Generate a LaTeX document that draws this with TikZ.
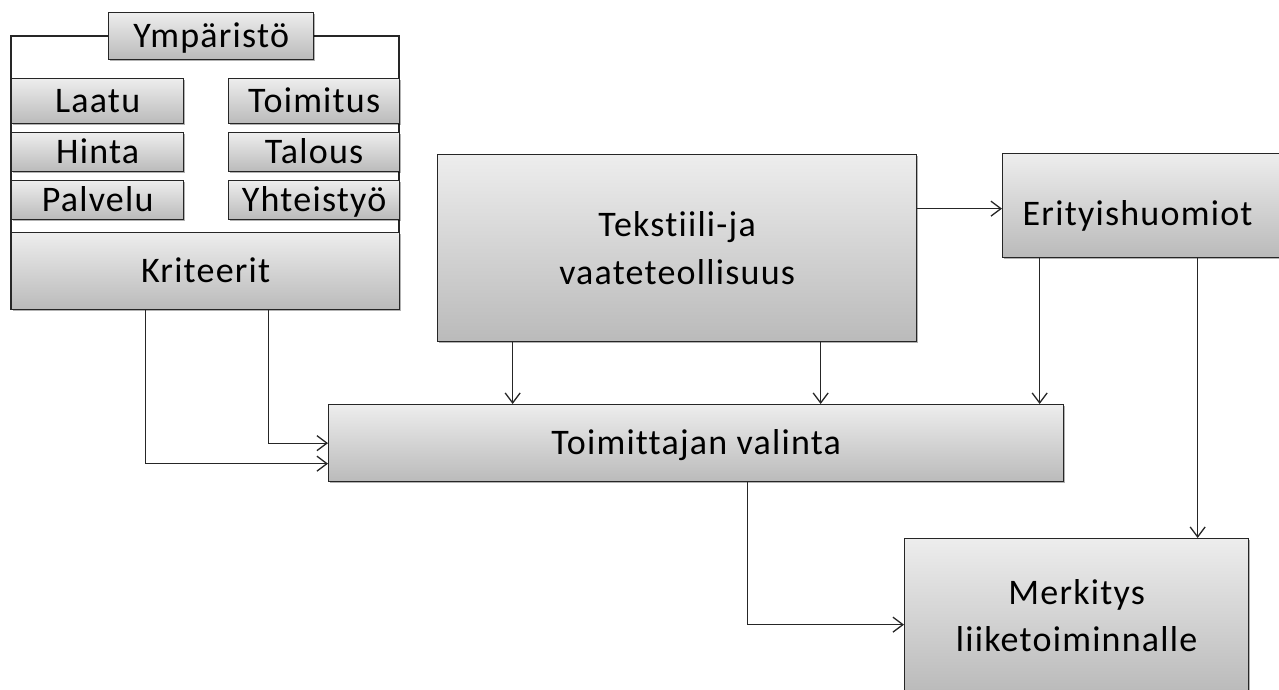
\documentclass[tikz,border=0pt]{standalone}
\usepackage{fontspec}
\setmainfont{Carlito}[Ligatures=NoCommon, LetterSpace=3.4]
\usetikzlibrary{arrows.meta,shadows}
\newcommand{\boxfont}{\fontsize{36}{47.5}\selectfont}
\begin{document}
\begin{tikzpicture}[x=1pt,y=-1pt,
  box/.style={draw=black!85, line width=1.3pt, top color=black!7, bottom color=black!27,
    drop shadow={shadow xshift=1.5pt, shadow yshift=-1.5pt, opacity=0.3, fill=black},
    inner sep=0pt, anchor=north west, align=center, font=\boxfont},
  oneline/.style={text height=23.2pt, text depth=0pt},
  arr/.style={line width=1.3pt, draw=black!85, -{Straight Barb[length=10pt,width=15pt]}},
  frame/.style={draw=black!85, line width=1.3pt}]
\useasboundingbox (0,0) rectangle (1279,690);

% criteria group: frame, header and the six criteria
\draw[frame] (11,36) rectangle (399,309);
\node[box, oneline, minimum width=205pt, minimum height=47pt] (env) at (108,12) {Ympäristö};
\node[box, oneline, minimum width=172pt, minimum height=45pt] (laatu) at (11,78) {Laatu};
\node[box, oneline, minimum width=172pt, minimum height=39pt] (hinta) at (11,132) {Hinta};
\node[box, oneline, minimum width=172pt, minimum height=39pt] (palvelu) at (11,180) {Palvelu};
\node[box, oneline, minimum width=171pt, minimum height=45pt] (toimitus) at (228,78) {Toimitus};
\node[box, oneline, minimum width=171pt, minimum height=39pt] (talous) at (228,132) {Talous};
\node[box, oneline, minimum width=171pt, minimum height=39pt] (yhteistyo) at (228,180) {Yhteistyö};
\node[box, oneline, minimum width=388pt, minimum height=77pt] (krit) at (11,232) {Kriteerit};

% main boxes
\node[box, minimum width=479pt, minimum height=187pt] (teks) at (437,154) {Tekstiili-ja\\vaateteollisuus};
\node[box, minimum width=290pt, minimum height=104pt,
  label={[font=\boxfont, oneline, xshift=-10pt, yshift=-8.5pt]center:Erityishuomiot}] (erit) at (1002,153) {};
\node[box, oneline, minimum width=735pt, minimum height=77pt] (valinta) at (328,404) {Toimittajan valinta};
\node[box, minimum width=344pt, minimum height=154pt] (merk) at (904,538) {Merkitys\\liiketoiminnalle};

% connectors
\draw[arr] ([xshift=-60pt]krit.south) |- ([yshift=-20.5pt]valinta.west);
\draw[arr] ([xshift=63pt]krit.south) |- (valinta.west);
\draw[arr] ([xshift=-164.5pt]teks.south) -- ([xshift=-164.5pt]teks.south |- valinta.north);
\draw[arr] ([xshift=143.5pt]teks.south) -- ([xshift=143.5pt]teks.south |- valinta.north);
\draw[arr] ([yshift=-3pt]erit.west -| teks.east) -- ([yshift=-3pt]erit.west);
\draw[arr] ([xshift=-108pt]erit.south) -- ([xshift=-108pt]erit.south |- valinta.north);
\draw[arr] ([xshift=50pt]erit.south) -- ([xshift=50pt]erit.south |- merk.north);
\draw[arr] ([xshift=51.5pt]valinta.south) |- ([yshift=-9pt]merk.west);
\end{tikzpicture}
\end{document}
